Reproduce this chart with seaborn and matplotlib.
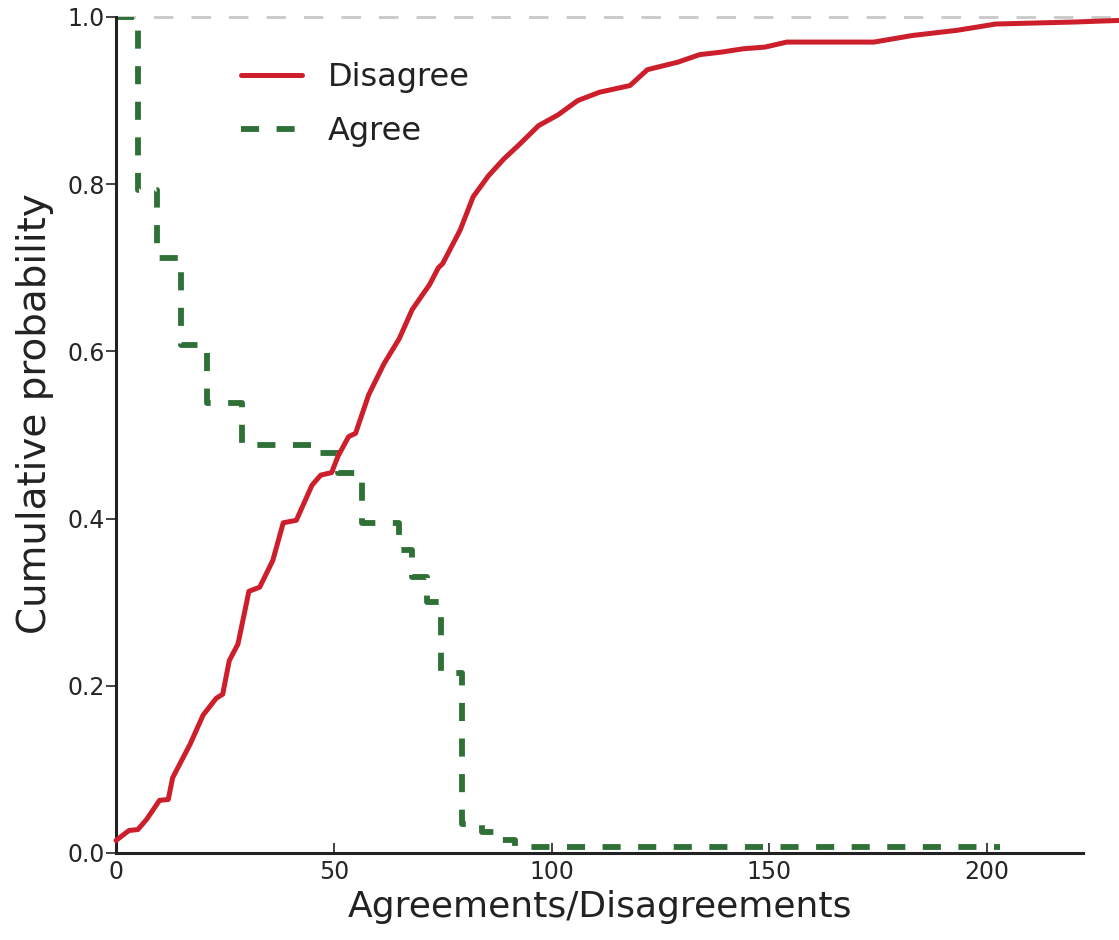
import matplotlib
matplotlib.use("Agg")
import matplotlib.pyplot as plt
import seaborn as sns
import pandas as pd

# DATA
# ==========================================================================
disagree_x = [0, 3, 5, 7, 10, 12, 13, 17, 20, 23, 24.5, 26, 28, 30, 30.5, 33, 36, 38.4,
              41.4, 45, 47, 49.5, 51, 53.4, 55, 58, 61.5, 65, 68, 72, 74, 75, 79, 82,
              85.5, 89, 92.5, 97, 101.5, 106, 111, 118, 122, 129, 134, 139, 144, 149,
              154, 174, 183, 193, 202, 220, 231]
disagree_y = [0.015, 0.027, 0.028, 0.04, 0.063, 0.064, 0.09, 0.13, 0.165, 0.185, 0.19,
              0.23, 0.25, 0.30, 0.313, 0.318, 0.35, 0.395, 0.398, 0.44, 0.452, 0.455,
              0.475, 0.498, 0.502, 0.548, 0.585, 0.615, 0.65, 0.68, 0.70, 0.705, 0.745,
              0.785, 0.81, 0.83, 0.847, 0.87, 0.883, 0.90, 0.91, 0.918, 0.937, 0.946,
              0.955, 0.958, 0.962, 0.964, 0.970, 0.970, 0.978, 0.984, 0.9916, 0.994, 0.996]

agree_x = [0, 5, 9.5, 15, 21, 29, 46, 51, 56.5, 65, 68, 71.5, 74.5, 79.5, 84, 88, 91.5, 203]
agree_y = [1.0, 0.793, 0.712, 0.608, 0.538, 0.488, 0.478, 0.455, 0.395, 0.362, 0.33, 0.30,
           0.215, 0.035, 0.025, 0.015, 0.007, 0.007]

x_ticks = [0, 50, 100, 150, 200]
y_ticks = [0.0, 0.2, 0.4, 0.6, 0.8, 1.0]
y_tick_labels = ["0.0", "0.2", "0.4", "0.6", "0.8", "1.0"]

df_dis = pd.DataFrame({"x": disagree_x, "y": disagree_y})
df_agr = pd.DataFrame({"x": agree_x, "y": agree_y})

# PLOT
# ==========================================================================
sns.set_style("white")
plt.rcParams["font.family"] = ["DejaVu Sans"]

fig = plt.figure(figsize=(11.19, 9.40), dpi=100)
W, H = 1119, 940
ax = fig.add_axes([116 / W, 1 - 853 / H, (1083 - 116) / W, (853 - 17) / H])

ax.axhline(1.0, xmin=0, xmax=1.04, color="#c8c8c8", lw=2, ls=(0, (7, 6.5)), clip_on=False, zorder=1)

sns.lineplot(data=df_dis, x="x", y="y", ax=ax, color="#cc1f2b", lw=3.6,
             label="Disagree", clip_on=False, zorder=3)
sns.lineplot(data=df_agr, x="x", y="y", ax=ax, color="#2e7036", lw=4.2,
             drawstyle="steps-post", dashes=False, linestyle=(0, (3.1, 3.0)),
             label="Agree", zorder=2)

ax.set_xlim(0, 222)
ax.set_ylim(0, 1.0)
ax.set_xticks(x_ticks)
ax.set_yticks(y_ticks)
ax.set_yticklabels(y_tick_labels)
ax.tick_params(axis="x", bottom=True, direction="in", length=7, width=1.2, labelsize=17, pad=5, color="#222222")
ax.tick_params(axis="y", left=True, direction="out", length=7, width=1.2, labelsize=17, pad=1, color="#222222")

for side in ["top", "right"]:
    ax.spines[side].set_visible(False)
for side in ["left", "bottom"]:
    ax.spines[side].set_linewidth(2.2)
    ax.spines[side].set_color("#222222")

ax.set_xlabel("Agreements/Disagreements", fontsize=26, color="#222222", labelpad=4)
ax.set_ylabel("Cumulative probability", fontsize=28, color="#222222")
ax.yaxis.set_label_coords(-0.064, 0.526)

leg = ax.legend(loc="upper left", bbox_to_anchor=(0.1, 0.98), frameon=False,
                fontsize=23, handlelength=1.9, handletextpad=0.8, labelspacing=0.7)
for t in leg.get_texts():
    t.set_color("#222222")

plt.savefig("out.png", dpi=100)
